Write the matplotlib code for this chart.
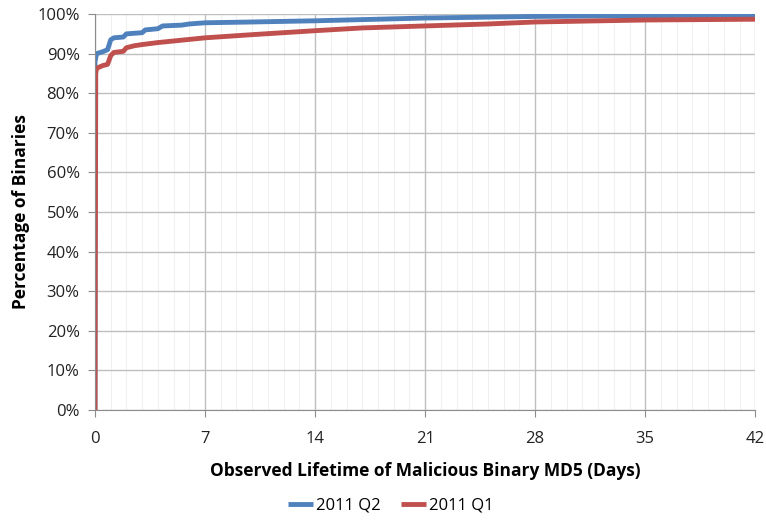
import matplotlib
matplotlib.use('Agg')
import matplotlib.pyplot as plt
from matplotlib.ticker import MultipleLocator, FuncFormatter

plt.rcParams['font.family'] = ['Open Sans', 'DejaVu Sans']

# observed lifetime (days) vs cumulative percentage of binaries
q2_days = [0, 0, 0.1, 0.5, 0.8, 1.0, 1.2, 1.8, 2.0, 3.0, 3.2, 4.0, 4.3, 5.5, 6, 7, 10, 14, 17, 21, 28, 35, 42]
q2_pct = [0, 88, 90, 90.5, 91, 93.5, 94, 94.2, 95, 95.3, 96, 96.3, 97, 97.2, 97.5, 97.8, 98, 98.3, 98.6, 99, 99.4, 99.6, 99.7]

q1_days = [0, 0.05, 0.1, 0.5, 0.8, 1.0, 1.2, 1.8, 2.0, 2.5, 3, 4, 5, 6, 7, 10, 14, 17, 21, 25, 28, 35, 42]
q1_pct = [0, 85, 86.3, 87, 87.3, 89.5, 90.3, 90.6, 91.5, 92, 92.3, 92.8, 93.2, 93.6, 94, 94.8, 95.8, 96.5, 97, 97.5, 98, 98.5, 98.7]

fig = plt.figure(figsize=(7.66, 5.21), dpi=100)
ax = fig.add_axes([0.124, 0.213, 0.862, 0.760])

ax.plot(q2_days, q2_pct, color='#4F81BD', lw=3.5, label='2011 Q2', solid_capstyle='butt')
ax.plot(q1_days, q1_pct, color='#C0504D', lw=3.5, label='2011 Q1', solid_capstyle='butt')

ax.set_xlim(0, 42)
ax.set_ylim(0, 100)
ax.xaxis.set_major_locator(MultipleLocator(7))
ax.xaxis.set_minor_locator(MultipleLocator(1))
ax.yaxis.set_major_locator(MultipleLocator(10))
ax.yaxis.set_major_formatter(FuncFormatter(lambda v, p: '%d%%' % v))

ax.grid(which='major', color='#BFBFBF', lw=1)
ax.grid(which='minor', axis='x', color='#F0F0F0', lw=0.8)
ax.set_axisbelow(True)

for s in ['top', 'right']:
    ax.spines[s].set_visible(False)
for s in ['left', 'bottom']:
    ax.spines[s].set_color('#8C8C8C')
ax.tick_params(which='major', length=5, color='#8C8C8C', labelsize=12, labelcolor='#222222')
ax.tick_params(axis='x', pad=10)
ax.tick_params(axis='y', pad=6)
ax.tick_params(which='minor', length=0)

ax.set_xlabel('Observed Lifetime of Malicious Binary MD5 (Days)', fontsize=12.5, fontweight='bold', labelpad=11)
ax.set_ylabel('Percentage of Binaries', fontsize=12.5, fontweight='bold', labelpad=5)

fig.legend(loc='lower center', bbox_to_anchor=(0.51, -0.015), ncol=2, frameon=False, fontsize=12,
           handlelength=1.5, handletextpad=0.2, columnspacing=1.2)

plt.savefig('out.png', dpi=100)
